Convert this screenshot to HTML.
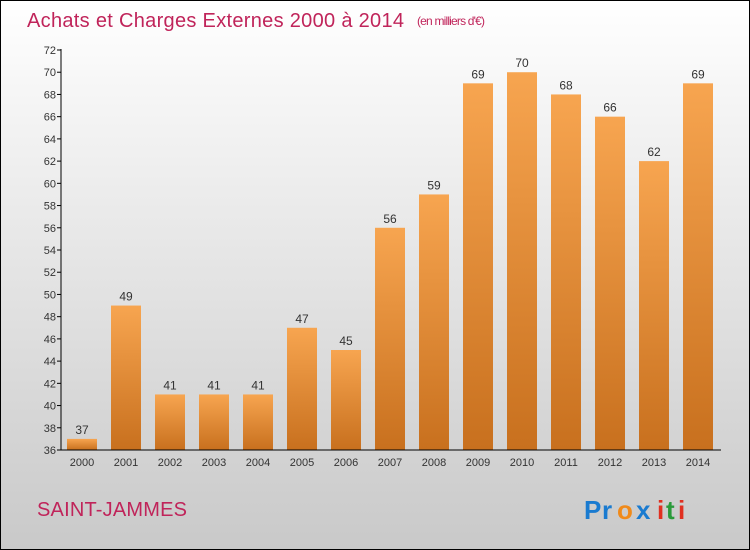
<!DOCTYPE html>
<html><head><meta charset="utf-8"><style>
body{margin:0}
#c{width:748px;height:548px;border:1px solid #000;background:linear-gradient(#fff,#f4f4f4 20%,#c9c9c9);position:relative;font-family:"Liberation Sans",sans-serif;overflow:hidden}
</style></head><body>
<div id="c">
<svg width="748" height="548" id="svg">
<defs><linearGradient id="g" x1="0" y1="0" x2="0" y2="1"><stop offset="0" stop-color="#f7a550"/><stop offset="1" stop-color="#c8701e"/></linearGradient></defs>
<text x="26" y="26" font-size="20" fill="#c0245a" textLength="377">Achats et Charges Externes 2000 à 2014</text>
<text x="416" y="24" font-size="12" fill="#c0245a" textLength="68">(en milliers d'€)</text>
<text x="36" y="515" font-size="20" fill="#c0245a" textLength="150">SAINT-JAMMES</text>
<g font-size="26" font-weight="bold"><text x="583" y="518" fill="#1a7bd0">P</text><text x="601" y="518" fill="#1a7bd0">r</text><text x="616" y="518" fill="#f08a1a">o</text><text x="635" y="518" fill="#1a7bd0">x</text><text x="656" y="518" fill="#e03020">i</text><text x="665" y="518" fill="#2a9a3a">t</text><text x="677" y="518" fill="#e03020">i</text></g>
<g id="plot"></g>
</svg></div>
<script>
const years=["2000","2001","2002","2003","2004","2005","2006","2007","2008","2009","2010","2011","2012","2013","2014"];
const values=[37,49,41,41,41,47,45,56,59,69,70,68,66,62,69];
const yTicks=[36,38,40,42,44,46,48,50,52,54,56,58,60,62,64,66,68,70,72];
const ns="http://www.w3.org/2000/svg";
const g=document.getElementById('plot');
const y0=449,y1=49,vmin=36,vmax=72,ax=60,axEnd=720;
const y=v=>y0-(v-vmin)/(vmax-vmin)*(y0-y1);
const x=i=>81+i*44;
function mk(t,a,txt){const e=document.createElementNS(ns,t);for(const k in a)e.setAttribute(k,a[k]);if(txt!=null)e.textContent=txt;g.appendChild(e);return e;}
yTicks.forEach(v=>{
 const l=mk('line',{x1:ax-4,x2:ax,y1:y(v),y2:y(v),stroke:'#000'});
 
 
 const t=mk('text',{x:ax-5,y:y(v)+4,'text-anchor':'end','font-size':11,fill:'#333'},v);
 
 
});
values.forEach((v,i)=>{
 const r=mk('rect',{x:x(i)-15,y:y(v),width:30,height:y0-y(v),fill:'url(#g)'});
 
 
 const t=mk('text',{x:x(i),y:y(v)-5,'text-anchor':'middle','font-size':12,fill:'#333'},v);
 
 
 const xl=mk('text',{x:x(i),y:y0+16,'text-anchor':'middle','font-size':11,fill:'#333'},years[i]);
 
 
});
const xa=mk('line',{x1:ax,x2:axEnd,y1:y0,y2:y0,stroke:'#000'});


const ya=mk('line',{x1:ax,x2:ax,y1:y1-1,y2:y0,stroke:'#000'});


</script>
</body></html>
